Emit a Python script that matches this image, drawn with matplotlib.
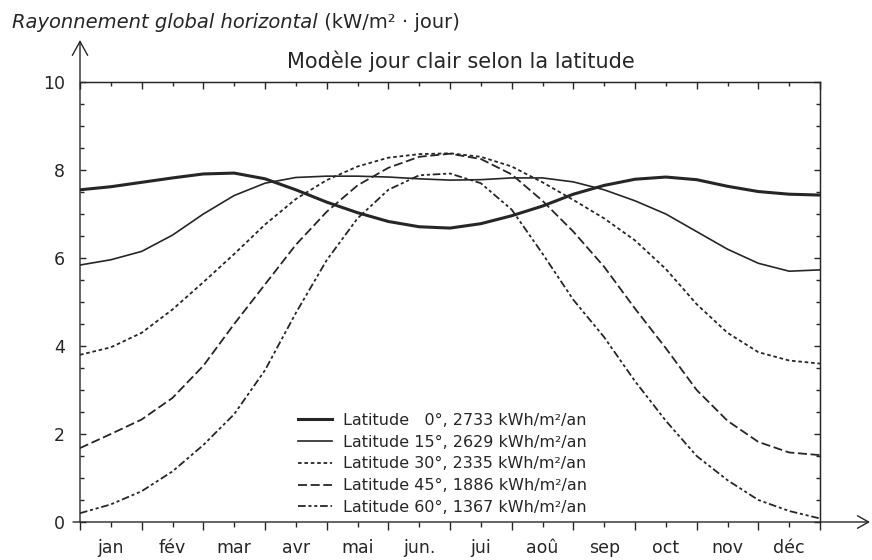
import matplotlib
matplotlib.use("Agg")
import matplotlib.pyplot as plt

plt.rcParams['font.family'] = ['DejaVu Sans']
plt.rcParams['lines.scale_dashes'] = False

# ---- data ----
months_pos = [0.0, 0.5, 1.0, 1.5, 2.0, 2.5, 3.0, 3.5, 4.0, 4.5, 5.0, 5.5, 6.0,
              6.5, 7.0, 7.5, 8.0, 8.5, 9.0, 9.5, 10.0, 10.5, 11.0, 11.5, 12.0]
lat0 = [7.55, 7.62, 7.72, 7.82, 7.91, 7.93, 7.80, 7.55, 7.27, 7.03, 6.83, 6.71, 6.68,
        6.78, 6.96, 7.18, 7.45, 7.65, 7.79, 7.84, 7.78, 7.63, 7.51, 7.45, 7.43]
lat15 = [5.84, 5.96, 6.15, 6.52, 7.00, 7.42, 7.70, 7.83, 7.86, 7.86, 7.84, 7.80, 7.77,
         7.78, 7.82, 7.82, 7.73, 7.55, 7.30, 7.00, 6.60, 6.20, 5.88, 5.70, 5.73]
lat30 = [3.80, 3.97, 4.30, 4.83, 5.45, 6.09, 6.76, 7.34, 7.77, 8.08, 8.28, 8.36, 8.38,
         8.30, 8.08, 7.72, 7.32, 6.90, 6.40, 5.75, 4.95, 4.30, 3.86, 3.67, 3.60]
lat45 = [1.68, 2.00, 2.33, 2.82, 3.55, 4.50, 5.40, 6.30, 7.05, 7.65, 8.05, 8.30, 8.37,
         8.25, 7.90, 7.30, 6.60, 5.80, 4.85, 3.95, 3.00, 2.30, 1.82, 1.58, 1.52]
lat60 = [0.20, 0.40, 0.70, 1.15, 1.75, 2.45, 3.45, 4.75, 5.95, 6.90, 7.55, 7.88, 7.92,
         7.70, 7.10, 6.10, 5.05, 4.20, 3.20, 2.30, 1.50, 0.95, 0.50, 0.25, 0.08]

series_labels = ["Latitude   0°, 2733 kWh/m²/an",
                 "Latitude 15°, 2629 kWh/m²/an",
                 "Latitude 30°, 2335 kWh/m²/an",
                 "Latitude 45°, 1886 kWh/m²/an",
                 "Latitude 60°, 1367 kWh/m²/an"]
month_labels = ["jan", "fév", "mar", "avr", "mai", "jun.", "jui", "aoû",
                "sep", "oct", "nov", "déc"]
month_bounds = [0, 1, 2, 3, 4, 5, 6, 7, 8, 9, 10, 11, 12]
month_centers = [0.5, 1.5, 2.5, 3.5, 4.5, 5.5, 6.5, 7.5, 8.5, 9.5, 10.5, 11.5]
y_major = [0, 2, 4, 6, 8, 10]
y_minor = [0.5 * k for k in range(21)]

title = "Modèle jour clair selon la latitude"
ylabel_it = "Rayonnement global horizontal"
ylabel_unit = " (kW/m² · jour)"

# ---- figure ----
W, H = 872, 560
fig = plt.figure(figsize=(W / 100, H / 100), dpi=100)
ax = fig.add_axes([80 / W, 1 - 522 / H, 740 / W, 440 / H])
ax.set_xlim(0, 12)
ax.set_ylim(0, 10)

ink = '#262626'
styles = [
    dict(lw=2.2, ls='-'),
    dict(lw=1.2, ls='-'),
    dict(lw=1.3, ls=(0, (2.6, 2.0))),
    dict(lw=1.3, ls=(0, (6.5, 2.6))),
    dict(lw=1.3, ls=(0, (5.5, 2.0, 2.2, 2.0, 2.2, 2.0))),
]
for vals, lab, st in zip([lat0, lat15, lat30, lat45, lat60], series_labels, styles):
    ax.plot(months_pos, vals, color=ink, label=lab, solid_joinstyle='round', **st)

# spines
for s in ['top', 'right']:
    ax.spines[s].set_color(ink)
    ax.spines[s].set_linewidth(1.0)
ax.spines['left'].set_visible(False)
ax.spines['bottom'].set_visible(False)

# axis arrows
ax.annotate('', xy=(0, 1 + 42 / 440), xytext=(0, 0), xycoords='axes fraction',
            arrowprops=dict(arrowstyle='->,head_length=1.0,head_width=0.55',
                            lw=1.0, color=ink, shrinkA=0, shrinkB=0))
ax.annotate('', xy=((870 - 80) / 740, 0), xytext=(-7 / 740, 0), xycoords='axes fraction',
            arrowprops=dict(arrowstyle='->,head_length=0.8,head_width=0.45',
                            lw=1.0, color=ink, shrinkA=0, shrinkB=0))

# x ticks (bottom, outward)
ax.set_xticks(month_bounds)
ax.set_xticklabels([])
ax.set_xticks(month_centers, minor=True)
ax.set_xticklabels(month_labels, minor=True)
ax.tick_params(axis='x', which='major', direction='out', length=6, width=1.0,
               color=ink, top=False, labelbottom=False)
ax.tick_params(axis='x', which='minor', direction='out', length=3.5, width=1.0,
               color=ink, top=False, labelsize=12.5, labelcolor=ink, pad=8.5)

# y ticks (left, inward)
ax.set_yticks(y_major)
ax.set_yticklabels([str(v) for v in y_major])
ax.set_yticks(y_minor, minor=True)
ax.tick_params(axis='y', which='major', direction='in', length=4, width=1.0,
               color=ink, right=False, labelsize=12.5, labelcolor=ink, pad=11)
ax.tick_params(axis='y', which='minor', direction='in', length=3, width=1.0,
               color=ink, right=False)

# top ticks (inward)
sx = ax.secondary_xaxis('top')
sx.set_xticks(month_bounds)
sx.set_xticks(month_centers, minor=True)
sx.tick_params(axis='x', which='major', direction='in', length=5, width=1.0,
               color=ink, labeltop=False)
sx.tick_params(axis='x', which='minor', direction='in', length=3, width=1.0,
               color=ink, labeltop=False)
sx.spines['top'].set_color(ink)

# right ticks (inward)
sy = ax.secondary_yaxis('right')
sy.set_yticks(y_major)
sy.set_yticks(y_minor, minor=True)
sy.tick_params(axis='y', which='major', direction='in', length=4, width=1.0,
               color=ink, labelright=False)
sy.tick_params(axis='y', which='minor', direction='in', length=3, width=1.0,
               color=ink, labelright=False)
sy.spines['right'].set_color(ink)

# legend
leg = ax.legend(loc='upper left', bbox_to_anchor=((298 - 80) / 740, (522 - 413) / 440),
                frameon=False, fontsize=11.5, handlelength=2.1, handletextpad=0.7,
                labelspacing=0.42, borderpad=0, borderaxespad=0)
for t in leg.get_texts():
    t.set_color(ink)

# title and y label
fig.text(287 / W, 1 - 68 / H, title, fontsize=15, color=ink, va='baseline', ha='left')
t1 = fig.text(12 / W, 1 - 28 / H, ylabel_it, fontsize=14, style='italic', color=ink,
              va='baseline', ha='left')
fig.canvas.draw()
bb = t1.get_window_extent()
fig.text(bb.x1 / W, 1 - 28 / H, ylabel_unit, fontsize=14, color=ink,
         va='baseline', ha='left')

fig.savefig('out.png', dpi=100)
